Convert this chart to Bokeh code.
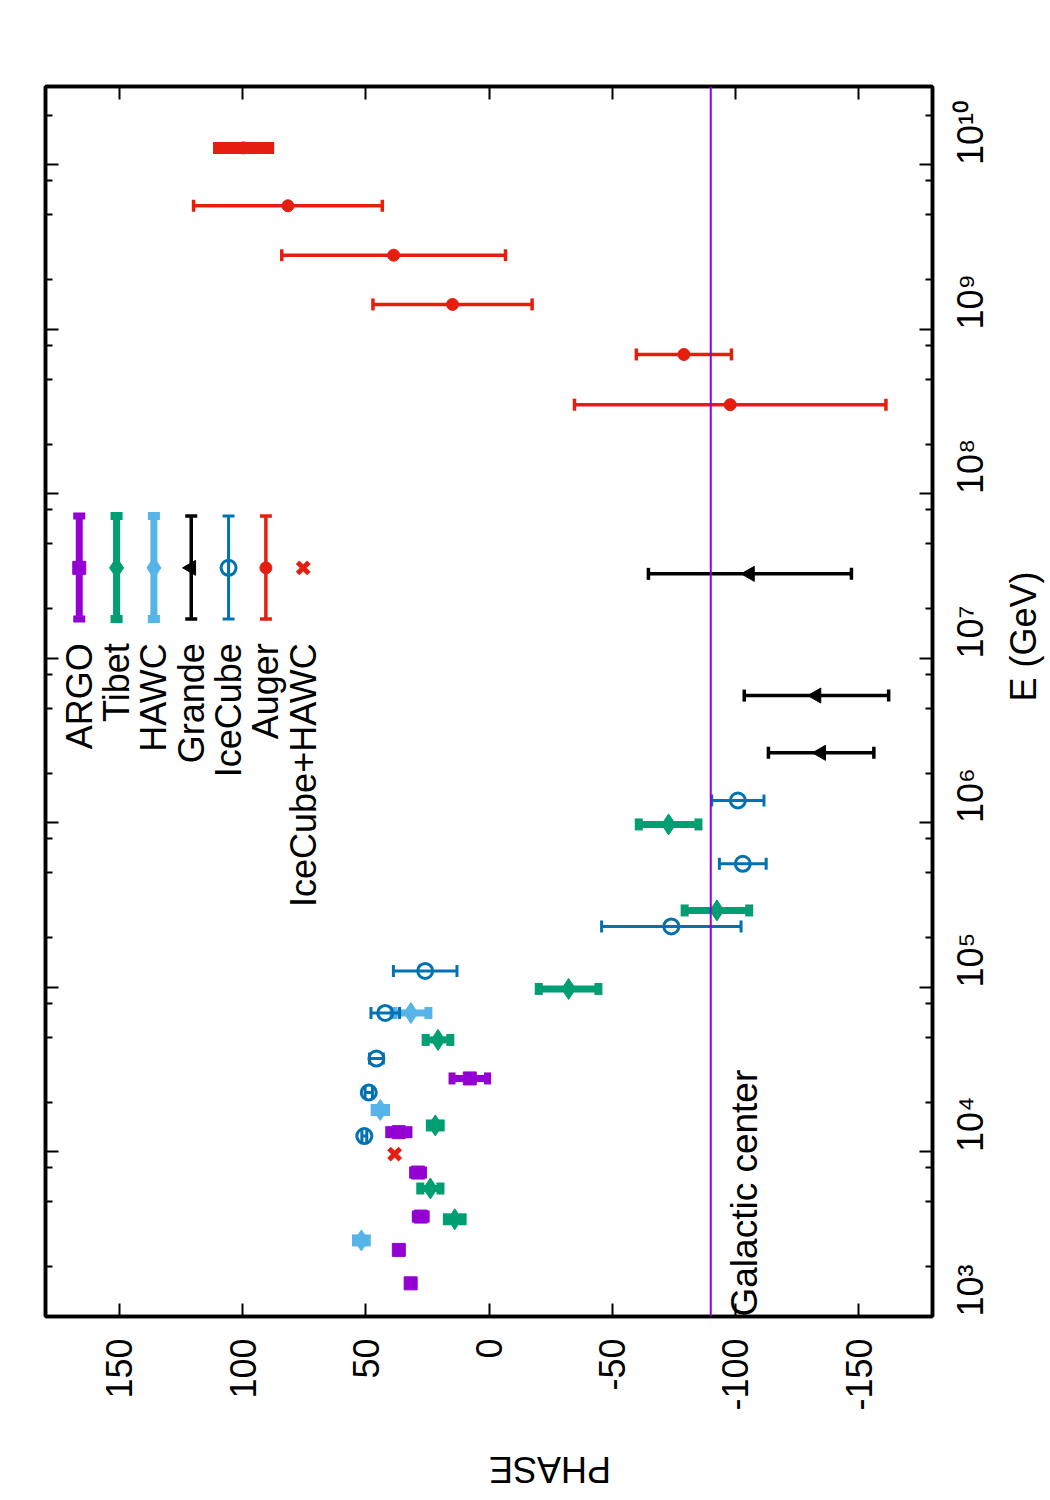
import math
from bokeh.plotting import figure
from bokeh.models import (ColumnDataSource, Range1d, FixedTicker, LinearAxis, LogAxis,
                          Whisker, TeeHead, Span, CustomJSTickFormatter)
from bokeh.core.properties import value
from bokeh.embed import file_html
from bokeh.resources import INLINE

FONT = "Liberation Sans"

# ---------------- data: energy (GeV), phase (deg), phase error (deg) ----------------
argo_E = [1.59e3, 2.54e3, 4.05e3, 7.5e3, 1.32e4, 2.8e4]
argo_phase = [31.8, 36.6, 27.7, 28.8, 36.6, 7.8]
argo_err = [0.8, 0.8, 2.2, 2.2, 4.1, 7.2]

tibet_E = [3.9e3, 6.0e3, 1.45e4, 4.8e4, 9.8e4, 2.94e5, 9.8e5]
tibet_phase = [13.9, 23.8, 21.8, 20.7, -32.3, -92.5, -72.9]
tibet_err = [3.2, 4.1, 2.2, 5.0, 12.1, 13.1, 12.1]

hawc_E = [2.9e3, 1.8e4, 7.0e4]
hawc_phase = [51.8, 44.1, 31.7]
hawc_err = [2.2, 2.3, 7.1]

grande_E = [2.67e6, 5.95e6, 3.27e7]
grande_phase = [-134.8, -132.9, -105.9]
grande_err = [21.4, 29.3, 41.2]

icecube_E = [1.25e4, 2.3e4, 3.7e4, 7.0e4, 1.26e5, 2.35e5, 5.65e5, 1.37e6]
icecube_phase = [50.6, 48.8, 45.7, 42.1, 25.9, -74.0, -103.0, -101.0]
icecube_err = [1.0, 1.5, 2.8, 5.8, 12.9, 28.3, 9.5, 10.6]

auger_E = [3.49e8, 7.05e8, 1.42e9, 2.83e9, 5.65e9]
auger_phase = [-97.9, -79.1, 14.8, 38.7, 81.6]
auger_err = [63.2, 19.3, 32.3, 45.4, 38.3]

# highest-energy Auger bin, drawn as a band
auger_band_E = [1.27e10]
auger_band_phase = [99.6]
auger_band_err = [12.4]

combo_E = [9.7e3]
combo_phase = [38.3]

galactic_center_phase = -90.0

phase_ticks = [-150, -100, -50, 0, 50, 100, 150]
energy_exponents = [3, 4, 5, 6, 7, 8, 9, 10]

SUP = str.maketrans("0123456789", "\u2070\u00b9\u00b2\u00b3\u2074\u2075\u2076\u2077\u2078\u2079")
energy_labels = {str(n): "10" + str(n).translate(SUP) for n in energy_exponents}
phase_labels = {str(t): str(t) for t in phase_ticks}

legend_names = ["ARGO", "Tibet", "HAWC", "Grande", "IceCube", "Auger", "IceCube+HAWC"]

# colours
PURPLE = "#9400d3"
GREEN = "#009e73"
SKY = "#56b4e9"
BLACK = "#000000"
BLUE = "#0072b2"
RED = "#e51e10"

# ---------------- figure ----------------
p = figure(frame_width=887, frame_height=1230,
           x_range=Range1d(180, -180), y_range=Range1d(1e3, 3e10),
           y_axis_type="log", x_axis_location="below", y_axis_location="right",
           output_backend="svg", toolbar_location=None,
           min_border_left=45, min_border_top=86, min_border_right=2, min_border_bottom=2,
           background_fill_color="white", border_fill_color="white")
p.xgrid.visible = False
p.ygrid.visible = False
p.outline_line_color = "black"
p.outline_line_width = 3.5

x_ticker = FixedTicker(ticks=phase_ticks, minor_ticks=[])
y_major = [10.0 ** n for n in energy_exponents]
y_minor = [k * 10.0 ** n for n in range(3, 11) for k in (2, 5, 8) if k * 10.0 ** n <= 3e10]
y_ticker = FixedTicker(ticks=y_major, minor_ticks=y_minor)

blank_fmt = CustomJSTickFormatter(code="return ''")
energy_fmt = CustomJSTickFormatter(args=dict(labels=energy_labels),
                                   code="return labels[String(Math.round(Math.log10(tick)))] || ''")
phase_fmt = CustomJSTickFormatter(args=dict(labels=phase_labels),
                                  code="return labels[String(Math.round(tick))] || ''")


def style_axis(ax, ticker):
    ax.ticker = ticker
    ax.axis_line_color = "black"
    ax.axis_line_width = 3.5
    ax.major_tick_in = 13
    ax.major_tick_out = 0
    ax.minor_tick_in = 7
    ax.minor_tick_out = 0
    ax.major_tick_line_width = 2
    ax.minor_tick_line_width = 2
    ax.major_tick_line_color = "black"
    ax.minor_tick_line_color = "black"
    ax.major_label_text_font = FONT
    ax.major_label_text_font_size = "36px"
    ax.major_label_text_color = "black"
    ax.axis_label_text_font = FONT
    ax.axis_label_text_font_style = "normal"
    ax.axis_label_text_font_size = "36px"
    ax.axis_label_text_color = "black"


# bottom: phase axis
xb = p.xaxis[0]
style_axis(xb, x_ticker)
xb.formatter = phase_fmt
xb.major_label_orientation = math.pi / 2
xb.major_label_standoff = 22
xb.axis_label = "PHASE"
xb.axis_label_orientation = math.pi
xb.axis_label_standoff = 56

# right: energy axis
yr = p.yaxis[0]
style_axis(yr, y_ticker)
yr.formatter = energy_fmt
yr.major_label_orientation = math.pi / 2
yr.major_label_standoff = 38
yr.axis_label = "E (GeV)"
yr.axis_label_orientation = math.pi / 2
yr.axis_label_standoff = 9

# mirror ticks on top and left
xt = LinearAxis()
style_axis(xt, x_ticker)
xt.formatter = blank_fmt
xt.major_label_standoff = 0
p.add_layout(xt, "above")
yl = LogAxis()
style_axis(yl, y_ticker)
yl.formatter = blank_fmt
yl.major_label_standoff = 0
p.add_layout(yl, "left")

# galactic centre direction
p.add_layout(Span(location=galactic_center_phase, dimension="height",
                  line_color=PURPLE, line_width=2))
p.text(x=[-103.5], y=[1e3], text=["Galactic center"], angle=math.pi / 2,
       text_align="left", text_baseline="alphabetic",
       text_font=value(FONT), text_font_size="37px", text_color="black")


def error_bars(E, ph, err, color, lw, cap_lw):
    src = ColumnDataSource(dict(base=E,
                                lo=[a - b for a, b in zip(ph, err)],
                                hi=[a + b for a, b in zip(ph, err)]))
    p.add_layout(Whisker(source=src, base="base", lower="lo", upper="hi", dimension="width",
                         line_color=color, line_width=lw,
                         upper_head=TeeHead(size=12, line_color=color, line_width=cap_lw),
                         lower_head=TeeHead(size=12, line_color=color, line_width=cap_lw)))


# series: (E, phase, err, colour, line width, cap width, marker kwargs)
series = [
    (argo_E, argo_phase, argo_err, PURPLE, 7, 7, dict(marker="square", size=13)),
    (tibet_E, tibet_phase, tibet_err, GREEN, 7, 8, dict(marker="diamond", size=21)),
    (hawc_E, hawc_phase, hawc_err, SKY, 7, 8, dict(marker="diamond", size=21)),
    (grande_E, grande_phase, grande_err, BLACK, 3.5, 3.5,
     dict(marker="triangle", size=15, angle=math.pi / 2)),
    (icecube_E, icecube_phase, icecube_err, BLUE, 3, 3,
     dict(marker="circle", size=15, fill_color=None, line_width=3)),
    (auger_E, auger_phase, auger_err, RED, 3.5, 3.5, dict(marker="circle", size=12)),
]

for E, ph, err, col, lw, clw, mk in series:
    error_bars(E, ph, err, col, lw, clw)
    kw = dict(mk)
    kw.setdefault("fill_color", col)
    kw.setdefault("line_color", col)
    p.scatter(x=ph, y=E, **kw)

# Auger top-energy band
p.segment(x0=[a - b for a, b in zip(auger_band_phase, auger_band_err)],
          x1=[a + b for a, b in zip(auger_band_phase, auger_band_err)],
          y0=auger_band_E, y1=auger_band_E, line_color=RED, line_width=12, line_cap="butt")
p.scatter(x=auger_band_phase, y=auger_band_E, marker="circle", size=12, color=RED)

# IceCube+HAWC
p.scatter(x=combo_phase, y=combo_E, marker="x", size=16, line_width=5, line_color=RED)

# ---------------- legend (rotated key) ----------------
leg_x0, leg_dx = 166.3, -15.15
leg_x = [leg_x0 + i * leg_dx for i in range(len(legend_names))]
leg_lo, leg_mid, leg_hi, leg_txt = 10 ** 7.24, 10 ** 7.551, 10 ** 7.866, 10 ** 7.093

for i, (E, ph, err, col, lw, clw, mk) in enumerate(series):
    src = ColumnDataSource(dict(base=[leg_x[i]], lo=[leg_lo], hi=[leg_hi]))
    p.add_layout(Whisker(source=src, base="base", lower="lo", upper="hi", dimension="height",
                         line_color=col, line_width=lw,
                         upper_head=TeeHead(size=12, line_color=col, line_width=clw),
                         lower_head=TeeHead(size=12, line_color=col, line_width=clw)))
    kw = dict(mk)
    kw.setdefault("fill_color", col)
    kw.setdefault("line_color", col)
    p.scatter(x=[leg_x[i]], y=[leg_mid], **kw)

p.scatter(x=[leg_x[6]], y=[leg_mid], marker="x", size=16, line_width=5, line_color=RED)

p.text(x=leg_x, y=[leg_txt] * len(legend_names), text=legend_names, angle=math.pi / 2,
       text_align="right", text_baseline="middle",
       text_font=value(FONT), text_font_size="36px", text_color="black")

open("out.html", "w").write(file_html(p, INLINE, title="Dipole phase vs energy"))
